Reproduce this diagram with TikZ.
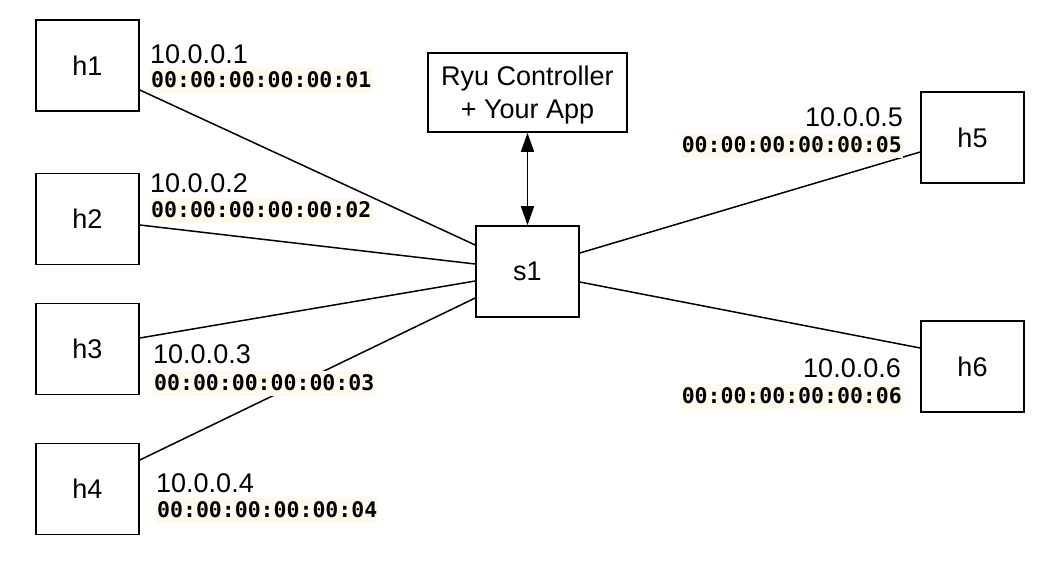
\documentclass[tikz,border=0pt]{standalone}
\usepackage{fontspec}
\setmainfont{Liberation Sans}
\setmonofont{DejaVu Sans Mono}
\usetikzlibrary{arrows.meta,calc}
\definecolor{maccream}{HTML}{FDF9EC}
\begin{document}
\begin{tikzpicture}[x=1pt,y=-1pt,
  box/.style={draw,line width=1.6pt,minimum width=103pt,minimum height=91pt,inner sep=0pt,font=\fontsize{27}{33}\selectfont},
  link/.style={line width=1.5pt},
  ip/.style={inner sep=0pt,font=\fontsize{27}{33}\selectfont},
  mac/.style={fill=maccream,inner xsep=1pt,inner ysep=0pt,text height=19pt,text depth=6pt,font=\fontsize{21.5}{26}\selectfont\ttfamily\bfseries}]
\useasboundingbox (0,0) rectangle (1054,568);
% boxes
\node[box] (h1) at (87.5,65.5) {h1};
\node[box] (h2) at (87.5,219) {h2};
\node[box] (h3) at (87.5,349) {h3};
\node[box] (h4) at (87.5,489) {h4};
\node[box] (s1) at (527.5,271.5) {s1};
\node[box] (h5) at (972.5,137.5) {h5};
\node[box] (h6) at (972.5,366.5) {h6};
\node[box,minimum width=199pt,minimum height=79pt] (ctrl) at (527.5,92.5) {};
\node[ip,align=center] (ctrltext) at (527.5,95.5) {Ryu Controller\\+ Your App};
% links
\draw[link] ([yshift=-24.5pt]h1.east) -- ([yshift=26.5pt]s1.west);
\draw[link] ([yshift=-6pt]h2.east) -- ([yshift=7.5pt]s1.west);
\draw[link] ([yshift=11pt]h3.east) -- ([yshift=-9.5pt]s1.west);
\draw[link] ([yshift=29pt]h4.east) -- ([yshift=-26.5pt]s1.west);
\draw[link] ([yshift=18.5pt]s1.east) -- ([yshift=-14.5pt]h5.west);
\draw[link] ([yshift=-10.5pt]s1.east) -- ([yshift=18.5pt]h6.west);
\draw[link,{Triangle[length=19pt,width=13pt]}-{Triangle[length=19pt,width=13pt]}] (ctrl.south) -- (s1.north);
% labels
\node[ip,anchor=base west] (ip1) at (150,63) {10.0.0.1};
\node[mac,anchor=base west] (mac1) at (150,87) {00:00:00:00:00:01};
\node[ip,anchor=base west] (ip2) at (150,192) {10.0.0.2};
\node[mac,anchor=base west] (mac2) at (150,217) {00:00:00:00:00:02};
\node[ip,anchor=base west] (ip3) at (153,363) {10.0.0.3};
\node[mac,anchor=base west] (mac3) at (153,390) {00:00:00:00:00:03};
\node[ip,anchor=base west] (ip4) at (156,492) {10.0.0.4};
\node[mac,anchor=base west] (mac4) at (156,517) {00:00:00:00:00:04};
\node[ip,anchor=base east] (ip5) at (903,126) {10.0.0.5};
\node[mac,anchor=base east] (mac5) at (903,152) {00:00:00:00:00:05};
\node[ip,anchor=base east] (ip6) at (901,377) {10.0.0.6};
\node[mac,anchor=base east] (mac6) at (903,403) {00:00:00:00:00:06};
\end{tikzpicture}
\end{document}
